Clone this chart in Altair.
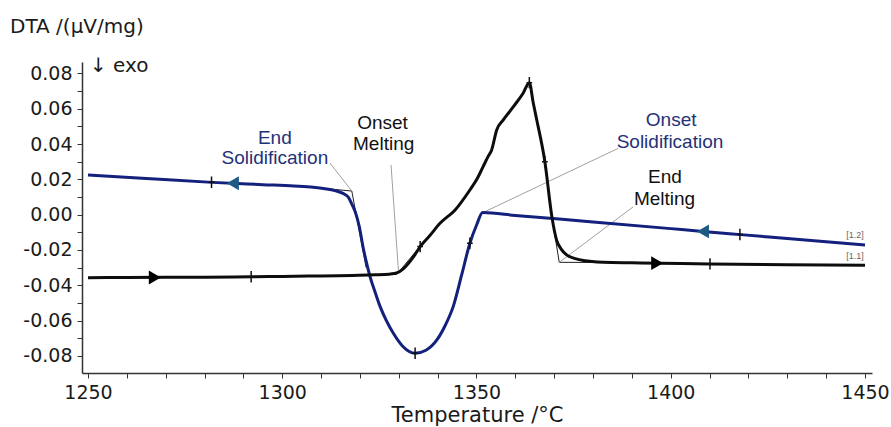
import altair as alt
import pandas as pd

# ---------------- data ----------------
# heating curve [1.1] (black)
heat_T = [1250, 1260, 1270, 1280, 1292, 1300, 1310, 1318, 1324, 1327.5, 1329.5, 1331, 1332.5,
          1334, 1335.5, 1338, 1340.6, 1344.5, 1348.3, 1350.2, 1351.7, 1353.0, 1353.9, 1355.2,
          1356.9, 1359.5, 1362.0, 1363.6, 1364.6, 1365.5, 1367.6, 1369.4, 1370.6, 1371.8,
          1373.2, 1375.2, 1377.5, 1382.6, 1390, 1397, 1410, 1430, 1450]
heat_v = [-0.0357, -0.0356, -0.0355, -0.0354, -0.0352, -0.0350, -0.0347, -0.0344, -0.0341,
          -0.0337, -0.0330, -0.0310, -0.0275, -0.0232, -0.0181, -0.0118, -0.0049, 0.0027,
          0.0140, 0.0205, 0.0272, 0.0330, 0.0367, 0.0480, 0.0537, 0.0612, 0.0688, 0.0748,
          0.0634, 0.0538, 0.0300, -0.0011, -0.0143, -0.0195, -0.0228, -0.0248, -0.0260,
          -0.0270, -0.0273, -0.0275, -0.0279, -0.0283, -0.0287]

# cooling curve [1.2] (blue)
cool_T = [1250, 1265, 1282, 1295, 1303, 1308, 1311, 1313.5, 1315.5, 1317.0, 1318.0, 1318.8,
          1319.8, 1320.9, 1322.0, 1322.6, 1324.0, 1325.2, 1326.8, 1328.6, 1331.0, 1334.2,
          1337.0, 1339.8, 1342.0, 1344.0, 1346.2, 1348.3, 1350.0, 1351.6, 1360, 1380, 1400,
          1408.3, 1418, 1430, 1450]
cool_v = [0.0225, 0.0205, 0.0183, 0.0170, 0.0162, 0.0155, 0.0147, 0.0137, 0.0122, 0.0100,
          0.0055, 0.0015, -0.0065, -0.0195, -0.0300, -0.0351, -0.0445, -0.0521, -0.0600,
          -0.0672, -0.0745, -0.0785, -0.0768, -0.0710, -0.0625, -0.0521, -0.0340, -0.0162,
          -0.0060, 0.0012, -0.0004, -0.0041, -0.0079, -0.0095, -0.0113, -0.0135, -0.0172]

# small cross marks on the curves
heat_mark_T = [1292.0, 1335.5, 1363.6, 1367.6, 1410.1]
heat_mark_v = [-0.0352, -0.0181, 0.0748, 0.0300, -0.0279]
cool_mark_T = [1281.8, 1334.2, 1348.3, 1417.8]
cool_mark_v = [0.0184, -0.0785, -0.0162, -0.0112]

# direction arrows
heat_arrow_T = [1267.2, 1396.5]
heat_arrow_v = [-0.0356, -0.0275]
cool_arrow_T = [1287.3, 1408.3]
cool_arrow_v = [0.0178, -0.0095]

# tangent construction lines (thin black)
tan_x1 = [1306.0, 1317.9, 1320.0, 1329.5, 1368.6, 1371.3]
tan_y1 = [0.0158, 0.0134, -0.0343, -0.0338, 0.0100, -0.0270]
tan_x2 = [1317.9, 1321.6, 1329.5, 1334.5, 1371.3, 1384.0]
tan_y2 = [0.0134, -0.0300, -0.0338, -0.0205, -0.0270, -0.0271]

# leader lines from the labels (grey)
lead_x1 = [1312.3, 1328.0, 1351.6, 1371.3]
lead_y1 = [0.0292, 0.0282, 0.0011, -0.0270]
lead_x2 = [1317.9, 1329.9, 1386.5, 1390.3]
lead_y2 = [0.0134, -0.0315, 0.0376, 0.0044]

# annotation texts
ann_text = ["End", "Solidification", "Onset", "Melting", "Onset", "Solidification", "End", "Melting"]
ann_T = [1298.1, 1298.1, 1325.8, 1326.1, 1400.1, 1399.8, 1398.5, 1398.4]
ann_v = [0.0432, 0.0320, 0.0517, 0.0398, 0.0537, 0.0409, 0.0216, 0.0089]
ann_kind = ["cool", "cool", "heat", "heat", "cool", "cool", "heat", "heat"]

# curve ids
id_text = ["[1.2]", "[1.1]"]
id_T = [1447.4, 1447.4]
id_v = [-0.0115, -0.0234]

x_ticks = list(range(1250, 1451, 10))
y_ticks = [round(i * 0.01, 2) for i in range(-9, 9)]

# ---------------- chart ----------------
BLUE = "#13207c"
BLUE_ARROW = "#1d5a86"
BLUE_TEXT = "#1f3278"

heat = pd.DataFrame({"T": heat_T, "v": heat_v})
cool = pd.DataFrame({"T": cool_T, "v": cool_v})
marks = pd.DataFrame({"T": heat_mark_T + cool_mark_T, "v": heat_mark_v + cool_mark_v})
harr = pd.DataFrame({"T": heat_arrow_T, "v": heat_arrow_v})
carr = pd.DataFrame({"T": cool_arrow_T, "v": cool_arrow_v})
tan = pd.DataFrame({"T": tan_x1, "v": tan_y1, "T2": tan_x2, "v2": tan_y2})
lead = pd.DataFrame({"T": lead_x1, "v": lead_y1, "T2": lead_x2, "v2": lead_y2})
ann = pd.DataFrame({"text": ann_text, "T": ann_T, "v": ann_v, "kind": ann_kind})
ids = pd.DataFrame({"text": id_text, "T": id_T, "v": id_v})

xscale = alt.Scale(domain=[1248.46, 1451.8], nice=False, zero=False)
yscale = alt.Scale(domain=[-0.0897, 0.0865], nice=False, zero=False)

x_axis = alt.Axis(
    values=x_ticks, title="Temperature /°C",
    labelExpr="datum.value % 50 == 0 ? format(datum.value, 'd') : ''",
    labelOverlap=False, labelFlush=False,
    labelPadding=5, titlePadding=2, titleFont="DejaVu Sans", titleFontSize=21,
    titleFontWeight="normal", titleColor="#1a1a1a")
y_axis = alt.Axis(
    values=y_ticks, title=None,
    labelExpr="round(datum.value*100) % 2 == 0 ? (datum.value < -0.0001 ? '-' + format(abs(datum.value), '.2f') : format(abs(datum.value), '.2f')) : ''",
    labelOverlap=False, labelFlush=False,
    labelPadding=5)

X = alt.X("T:Q", scale=xscale, axis=x_axis, title="Temperature /°C")
Y = alt.Y("v:Q", scale=yscale, axis=y_axis, title=None)

tan_layer = alt.Chart(tan).mark_rule(color="#222222", strokeWidth=1).encode(
    x=X, y=Y, x2="T2:Q", y2="v2:Q")
lead_layer = alt.Chart(lead).mark_rule(color="#a0a0a0", strokeWidth=1).encode(
    x=X, y=Y, x2="T2:Q", y2="v2:Q")

cool_line = alt.Chart(cool).mark_line(color=BLUE, strokeWidth=3, interpolate="monotone").encode(x=X, y=Y)
heat_line = alt.Chart(heat).mark_line(color="#0d0d0d", strokeWidth=3, interpolate="monotone").encode(x=X, y=Y)

cross = alt.Chart(marks).mark_point(shape="M0,-1L0,1M-0.5,0L0.5,0", size=130, filled=False,
                                    color="#111111", strokeWidth=1.5, opacity=1).encode(x=X, y=Y)
harrow = alt.Chart(harr).mark_point(shape="triangle-right", size=190, filled=True,
                                    color="#000000", opacity=1).encode(x=X, y=Y)
carrow = alt.Chart(carr).mark_point(shape="triangle-left", size=190, filled=True,
                                    color=BLUE_ARROW, opacity=1).encode(x=X, y=Y)

ann_layer = alt.Chart(ann).mark_text(font="Liberation Sans", fontSize=19, align="center",
                                     baseline="middle").encode(
    x=X, y=Y, text="text:N",
    color=alt.Color("kind:N", scale=alt.Scale(domain=["cool", "heat"], range=[BLUE_TEXT, "#111111"]),
                    legend=None))
id_layer = alt.Chart(ids).mark_text(font="Liberation Sans", fontSize=9, align="center",
                                    baseline="middle", color="#666666").encode(x=X, y=Y, text="text:N")

one = pd.DataFrame({"t": ["DTA /(µV/mg)"]})
ytitle = alt.Chart(one).mark_text(font="DejaVu Sans", fontSize=20, align="left",
                                  baseline="alphabetic", color="#1a1a1a").encode(
    x=alt.value(-72), y=alt.value(-29), text="t:N")
exo = alt.Chart(pd.DataFrame({"t": ["↓ exo"]})).mark_text(font="DejaVu Sans", fontSize=20, align="left",
                                                          baseline="alphabetic", color="#1a1a1a").encode(
    x=alt.value(8), y=alt.value(10), text="t:N")

chart = alt.layer(
    tan_layer, lead_layer, cool_line, heat_line, cross, harrow, carrow, ann_layer, id_layer, ytitle, exo
).properties(
    width=790, height=311,
    autosize=alt.AutoSizeParams(type="none"),
    padding={"left": 82, "top": 62, "right": 19, "bottom": 54},
    background="white",
).configure_view(stroke=None).configure_axis(
    grid=False, domainColor="#333333", domainWidth=1.5, tickColor="#333333", tickSize=5,
    tickWidth=1, labelFont="DejaVu Sans", labelFontSize=19, labelColor="#1a1a1a",
    labelOverlap=False,
)

chart.save("out.html", embed_options={"renderer": "svg", "actions": False})
